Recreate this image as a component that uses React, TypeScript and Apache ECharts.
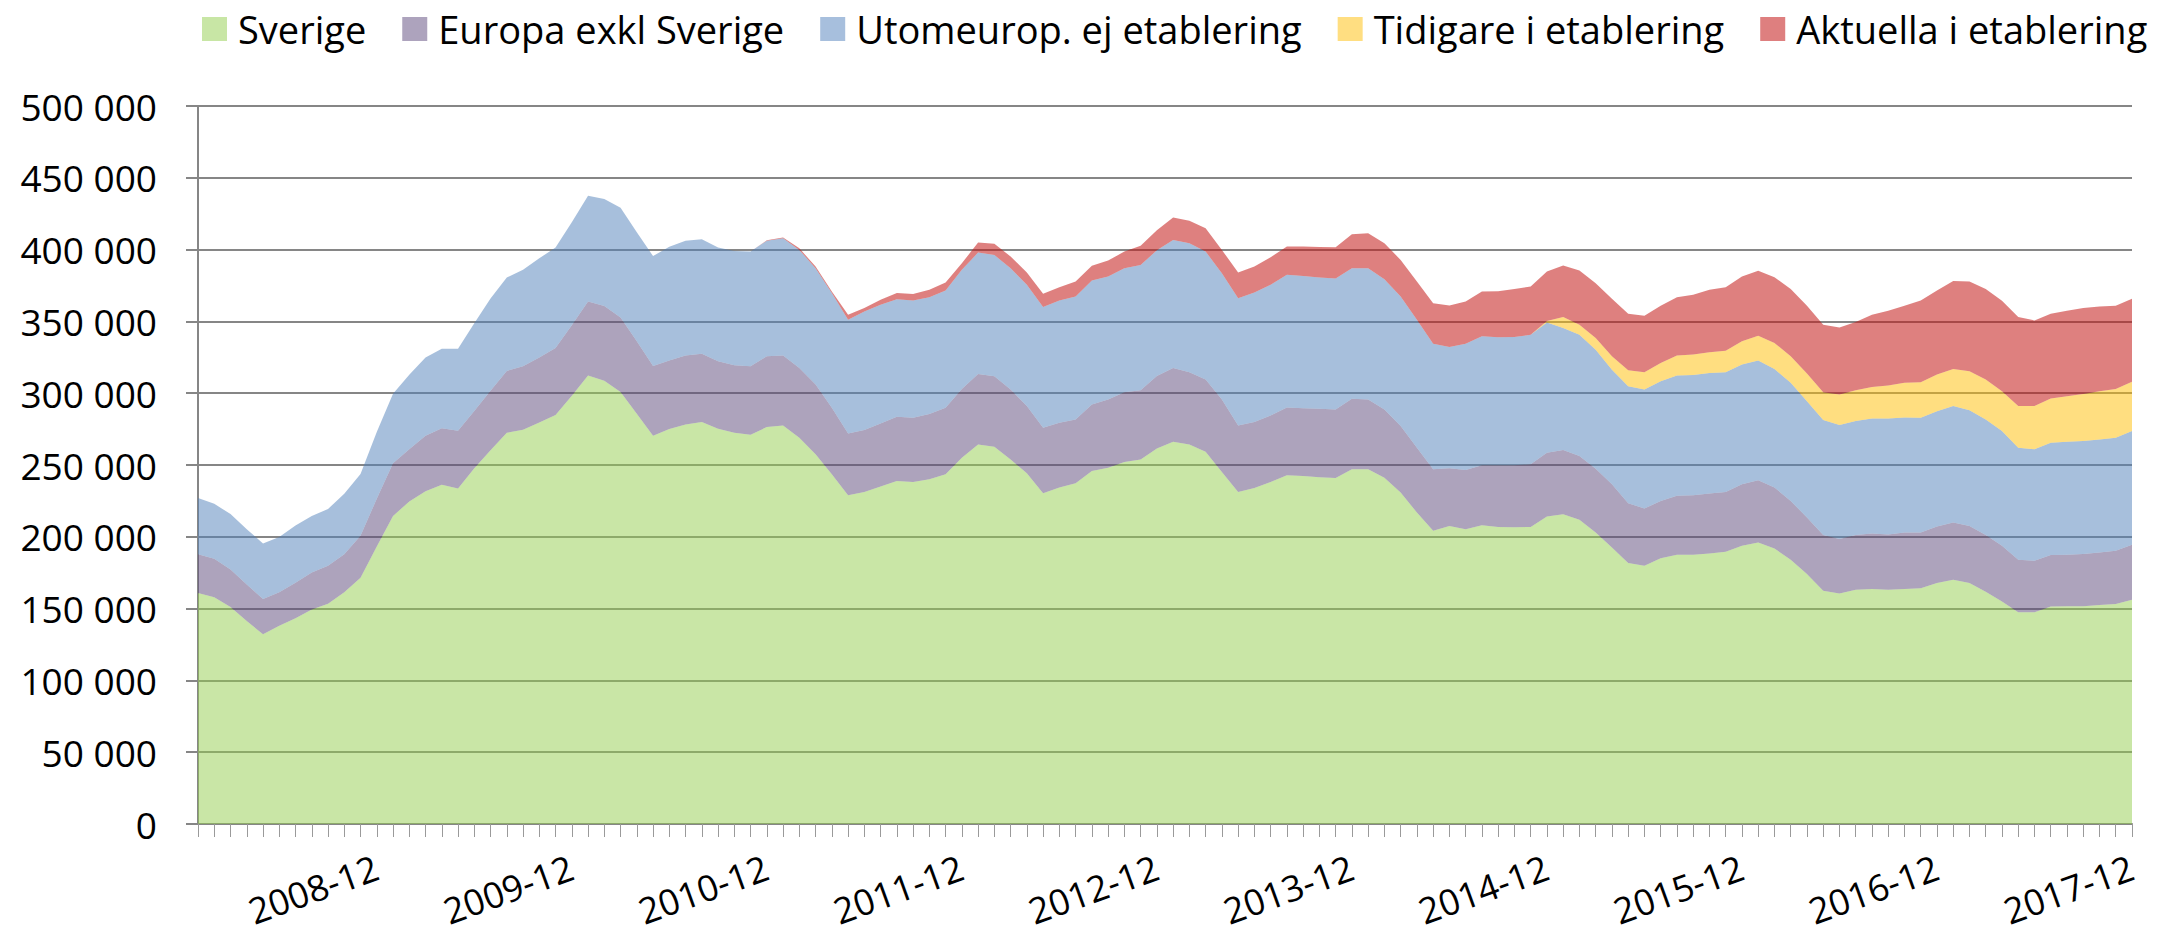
import React, { useEffect, useRef } from "react";
import * as echarts from "echarts";

// Monthly categories 2008-01 .. 2017-12
const years = [2008, 2009, 2010, 2011, 2012, 2013, 2014, 2015, 2016, 2017];
const monthNames = ["01", "02", "03", "04", "05", "06", "07", "08", "09", "10", "11", "12"];
const categories: string[] = [];
years.forEach((y) => monthNames.forEach((m) => categories.push(`${y}-${m}`)));

const seriesNames = [
  "Sverige",
  "Europa exkl Sverige",
  "Utomeurop. ej etablering",
  "Tidigare i etablering",
  "Aktuella i etablering",
];

const sverige = [
  160800, 157900, 151200, 141400, 132100, 138000, 143300, 149400, 153400, 161300, 171400, 193200,
  214500, 224600, 231800, 236300, 233600, 247700, 260200, 272400, 274600, 279600, 284900, 298200,
  312300, 308600, 300900, 285700, 270300, 275000, 278200, 279900, 275200, 272400, 271100, 276400,
  277500, 269000, 257400, 243500, 228900, 231200, 235000, 238900, 238200, 240000, 243500, 255100,
  264300, 262700, 253900, 244200, 230300, 234300, 237300, 245800, 248100, 252100, 253900, 261500,
  266200, 264300, 259300, 245100, 231200, 234000, 238200, 242800, 242400, 241400, 241000, 247000,
  247000, 241200, 230800, 216900, 204200, 207600, 205300, 208100, 206900, 206700, 206900, 214100,
  215700, 211800, 203000, 192600, 181700, 179900, 185000, 187500, 187500, 188400, 189600, 193700,
  196100, 191900, 184000, 174100, 162500, 160600, 163200, 163700, 163200, 163700, 164100, 167800,
  170100, 167800, 161800, 154900, 147500, 147500, 151400, 151600, 151600, 152500, 153200, 156200,
];

const europa = [
  27100, 26800, 26100, 25300, 24500, 23300, 24700, 25800, 26500, 26600, 29300, 33300,
  36700, 36400, 38500, 39300, 40200, 39900, 41500, 43100, 44100, 45200, 46600, 49200,
  51600, 52100, 51800, 50500, 48700, 47800, 48000, 47600, 47000, 47000, 47600, 49300,
  48700, 48600, 48600, 46300, 43100, 43100, 43900, 44700, 44700, 45600, 46300, 47900,
  49100, 49100, 48700, 46800, 45600, 45100, 44400, 46300, 47500, 48600, 48200, 50500,
  51400, 50300, 50200, 50500, 46300, 45900, 46300, 47200, 47200, 47700, 47700, 49100,
  48600, 47500, 46300, 45100, 42800, 40100, 41200, 41700, 42900, 43100, 43600, 44500,
  44700, 44400, 44400, 44000, 41700, 39800, 40000, 41000, 41400, 41700, 41600, 42900,
  43300, 42400, 41000, 39300, 38700, 37800, 38000, 38600, 38400, 39300, 38900, 39400,
  39900, 39800, 39400, 38800, 36500, 35800, 35900, 35900, 36400, 36600, 37100, 38200,
];

const utomeurop = [
  39100, 38300, 38500, 38500, 38800, 38600, 39900, 39300, 39400, 42000, 43000, 46500,
  48400, 51900, 54500, 55300, 57100, 61100, 64300, 65100, 67200, 69100, 70000, 71600,
  73600, 74500, 76500, 75800, 76500, 79200, 80000, 79700, 79200, 79700, 79900, 80500,
  81700, 82200, 81000, 79900, 79200, 82600, 82700, 81900, 81700, 81300, 81700, 82900,
  84500, 84500, 84400, 84500, 84100, 85200, 85700, 86400, 85600, 86300, 87200, 87500,
  89100, 89800, 89100, 88000, 88700, 90200, 91000, 92400, 92100, 91500, 91200, 90900,
  91400, 90700, 90300, 89200, 87500, 84500, 88000, 89800, 89100, 89300, 90200, 90700,
  85000, 84500, 82900, 79800, 81500, 82800, 83300, 83800, 83800, 84000, 83400, 83300,
  83300, 82600, 82200, 81000, 80100, 79400, 79400, 80100, 80800, 80100, 79900, 80300,
  81000, 80600, 80500, 79900, 78000, 77600, 78200, 78700, 78700, 78700, 78700, 79200,
];

const tidigare = [
  0, 0, 0, 0, 0, 0, 0, 0, 0, 0, 0, 0,
  0, 0, 0, 0, 0, 0, 0, 0, 0, 0, 0, 0,
  0, 0, 0, 0, 0, 0, 0, 0, 0, 0, 0, 0,
  0, 0, 0, 0, 0, 0, 0, 0, 0, 0, 0, 0,
  0, 0, 0, 0, 0, 0, 0, 0, 0, 0, 0, 0,
  0, 0, 0, 0, 0, 0, 0, 0, 0, 0, 0, 0,
  0, 0, 0, 0, 0, 0, 0, 0, 0, 0, 0, 1000,
  7600, 7000, 8100, 9300, 11100, 12100, 12800, 13900, 14200, 14400, 15000, 16200,
  17300, 18100, 18500, 19300, 19400, 21300, 21500, 22000, 22900, 24100, 24700, 25500,
  25900, 27100, 27800, 27800, 29000, 30100, 30800, 31700, 32800, 33600, 34000, 34300,
];

const aktuella = [
  0, 0, 0, 0, 0, 0, 0, 0, 0, 0, 0, 0,
  0, 0, 0, 0, 0, 0, 0, 0, 0, 0, 0, 0,
  0, 0, 0, 0, 0, 0, 0, 0, 0, 0, 0, 300,
  600, 1100, 1200, 1200, 3400, 2400, 3500, 4200, 4400, 5100, 5600, 4600,
  7000, 7700, 8200, 8600, 9200, 9200, 10400, 10200, 11200, 11600, 13300, 14000,
  15700, 15700, 16200, 16200, 17800, 18100, 19200, 19700, 20400, 21200, 21700, 23700,
  24300, 25000, 25400, 26600, 28200, 28900, 29400, 31200, 32100, 33400, 33600, 34400,
  35900, 37700, 38200, 40000, 39300, 39300, 39800, 40700, 41600, 43500, 44200, 45100,
  45200, 45800, 46800, 47200, 47000, 46700, 47400, 50200, 52100, 53700, 57000, 58500,
  61300, 62500, 63000, 63000, 62000, 59700, 59000, 59500, 59800, 59000, 57900, 57800,
];

const seriesValues = [sverige, europa, utomeurop, tidigare, aktuella];
const legendColors = ["#C8E6A5", "#ADA3BD", "#A7BFDD", "#FFDE81", "#DE7F7F"];
const areaColors = [
  "rgba(147,205,77,0.5)",
  "rgba(91,71,121,0.5)",
  "rgba(79,127,185,0.5)",
  "rgba(255,189,1,0.5)",
  "rgba(195,24,22,0.55)",
];

const FONT = "Open Sans";

function fmt(v: number): string {
  return String(v).replace(/\B(?=(\d{3})+(?!\d))/g, " ");
}

export default function App() {
  const ref = useRef<HTMLDivElement>(null);
  useEffect(() => {
    if (!ref.current) return;
    const chart = echarts.init(ref.current, null, { renderer: "svg" });
    chart.setOption({
      animation: false,
      textStyle: { fontFamily: FONT },
      legend: {
        left: 202,
        top: 10,
        width: 1957,
        padding: 0,
        icon: "rect",
        itemWidth: 25,
        itemHeight: 24,
        itemGap: 36,
        data: seriesNames,
        textStyle: { fontFamily: FONT, fontSize: 38, color: "#000", padding: [0, 0, 0, 6] },
      },
      grid: { left: 198, right: 27, top: 106, bottom: 111 },
      xAxis: {
        type: "category",
        data: categories,
        boundaryGap: false,
        axisLine: { show: true, lineStyle: { color: "#868686", width: 2 } },
        axisTick: {
          show: true,
          interval: 0,
          length: 13,
          lineStyle: { color: "#9a9a9a", width: 1 },
        },
        axisLabel: {
          interval: (idx: number) => idx % 12 === 11,
          rotate: 20,
          margin: 42,
          fontFamily: FONT,
          fontSize: 36,
          color: "#000",
        },
        splitLine: { show: false },
      },
      yAxis: {
        type: "value",
        min: 0,
        max: 500000,
        interval: 50000,
        axisLine: { show: true, lineStyle: { color: "#868686", width: 2 } },
        axisTick: { show: true, length: 12, lineStyle: { color: "#868686", width: 2 } },
        axisLabel: {
          margin: 41,
          fontFamily: FONT,
          fontSize: 37,
          color: "#000",
          formatter: (v: number) => fmt(v),
        },
        splitLine: { show: true, lineStyle: { color: "#868686", width: 2 } },
      },
      series: seriesNames.map((name, k) => ({
        name,
        type: "line",
        stack: "total",
        data: seriesValues[k],
        color: legendColors[k],
        symbol: "none",
        showSymbol: false,
        silent: true,
        lineStyle: { width: 0 },
        areaStyle: { color: areaColors[k], opacity: 1 },
        emphasis: { disabled: true },
      })),
    });
    return () => chart.dispose();
  }, []);
  return (
    <div
      ref={ref}
      style={{ position: "absolute", left: 0, top: 0, width: 2159, height: 935 }}
    />
  );
}
